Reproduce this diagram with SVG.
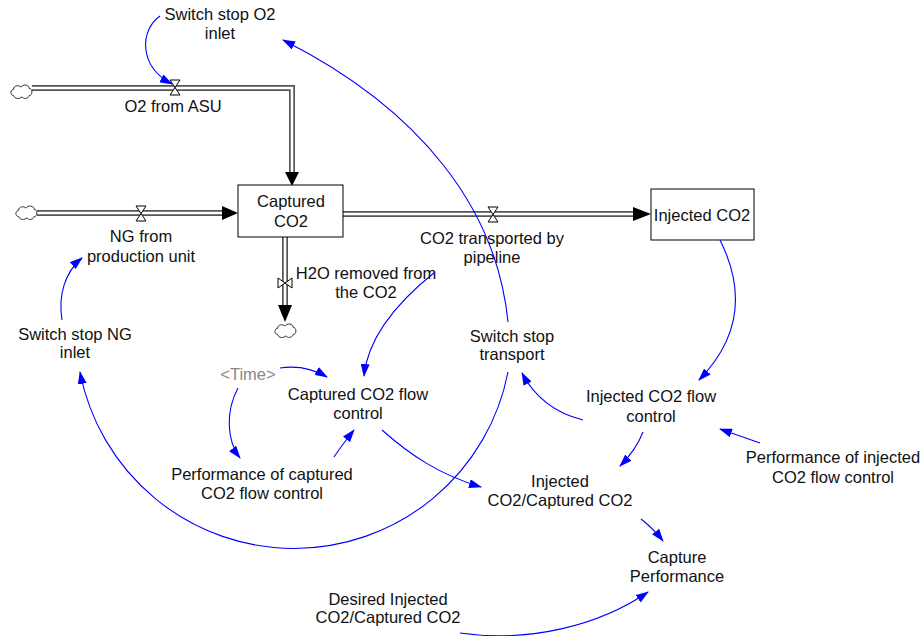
<svg xmlns="http://www.w3.org/2000/svg" width="922" height="636" viewBox="0 0 922 636">
<style>
text{font-family:"Liberation Sans",Arial,sans-serif;font-size:16.5px;fill:#111;text-anchor:middle}
.gray{fill:#888}
.pipeo{fill:none;stroke:#555;stroke-width:6}
.pipei{fill:none;stroke:#fff;stroke-width:2.6}
.box{fill:#fff;stroke:#000;stroke-width:1}
.valve{fill:#fff;stroke:#000;stroke-width:1}
.cloud{fill:#fff;stroke:#000;stroke-width:0.8}
.link{fill:none;stroke:#0000ff;stroke-width:1.1;marker-end:url(#ah)}
.fa{fill:#000}
</style>
<defs>
<marker id="ah" viewBox="0 0 13 9" refX="12" refY="4.5" markerWidth="13" markerHeight="9" markerUnits="userSpaceOnUse" orient="auto">
<path d="M0 0 L13 4.5 L0 9 Z" fill="#0000ff"/>
</marker>
<path id="cl" d="M-8.5 3.5 C-12 3.5 -12 -2.5 -8.5 -2.5 C-8.5 -7 -2.5 -7 -1.2 -4.8 C1.2 -8.4 7.2 -7.2 7.2 -3.6 C10.8 -3.6 10.8 3.6 7.2 3.6 C6 7.2 1.2 7.2 0 4.8 C-2.4 7.2 -7.2 7.2 -8.5 3.5 Z"/>
</defs>

<g id="pipes">
<path class="pipeo" d="M32 88 H292 V174"/>
<path class="pipei" d="M32 88 H292 V174"/>
<path class="fa" d="M285 172 H299 L292 186 Z"/>
<path class="pipeo" d="M37 213 H224"/>
<path class="pipei" d="M37 213 H224"/>
<path class="fa" d="M222 206 V220 L238 213 Z"/>
<path class="pipeo" d="M343 214 H636"/>
<path class="pipei" d="M343 214 H636"/>
<path class="fa" d="M633 207 V221 L651 214 Z"/>
<path class="pipeo" d="M285 237 V308"/>
<path class="pipei" d="M285 237 V308"/>
<path class="fa" d="M278 305 H292 L285 322 Z"/>
</g>

<g id="cloud-o2"><use href="#cl" class="cloud" x="22" y="92"/></g>
<g id="cloud-ng"><use href="#cl" class="cloud" x="27" y="213"/></g>
<g id="cloud-h2o"><use href="#cl" class="cloud" x="286" y="331"/></g>

<g id="o2-from-asu">
<path class="valve" d="M170 80 H180 L170 95 H180 Z"/>
<text x="173" y="112">O2 from ASU</text>
</g>
<g id="ng-from-production-unit">
<path class="valve" d="M136 206 H146 L136 221 H146 Z"/>
<text x="141" y="242">NG from</text>
<text x="141" y="262">production unit</text>
</g>
<g id="co2-transported">
<path class="valve" d="M488 207 H498 L488 222 H498 Z"/>
<text x="492" y="244">CO2 transported by</text>
<text x="492" y="263">pipeline</text>
</g>
<g id="h2o-removed">
<path class="valve" d="M278 278 V288 L292 278 V288 Z"/>
<text x="366" y="279">H2O removed from</text>
<text x="366" y="298">the CO2</text>
</g>

<g id="captured-co2">
<rect class="box" x="238" y="185" width="105" height="52"/>
<text x="291" y="207">Captured</text>
<text x="291" y="227">CO2</text>
</g>
<g id="injected-co2">
<rect class="box" x="651" y="189" width="103" height="51"/>
<text x="702" y="221">Injected CO2</text>
</g>

<g id="switch-stop-o2-inlet"><text x="220" y="20">Switch stop O2</text><text x="220" y="39">inlet</text></g>
<g id="switch-stop-ng-inlet"><text x="75" y="340">Switch stop NG</text><text x="75" y="358">inlet</text></g>
<g id="time"><text class="gray" x="248" y="380">&lt;Time&gt;</text></g>
<g id="captured-co2-flow-control"><text x="358" y="400">Captured CO2 flow</text><text x="358" y="419">control</text></g>
<g id="performance-captured"><text x="262" y="480">Performance of captured</text><text x="262" y="499">CO2 flow control</text></g>
<g id="switch-stop-transport"><text x="512" y="342">Switch stop</text><text x="512" y="360">transport</text></g>
<g id="injected-co2-flow-control"><text x="651" y="402">Injected CO2 flow</text><text x="651" y="422">control</text></g>
<g id="performance-injected"><text x="833" y="463">Performance of injected</text><text x="833" y="483">CO2 flow control</text></g>
<g id="ratio"><text x="560" y="487">Injected</text><text x="560" y="506">CO2/Captured CO2</text></g>
<g id="capture-performance"><text x="677" y="563">Capture</text><text x="677" y="582">Performance</text></g>
<g id="desired-ratio"><text x="388" y="605">Desired Injected</text><text x="388" y="623">CO2/Captured CO2</text></g>

<g id="connectors">
<path class="link" d="M160 16 C140 30 138 66 172 84"/>
<path class="link" d="M508 322 C497 210 422 110 283 40"/>
<path class="link" d="M62 320 C58 295 65 272 82 258"/>
<path class="link" d="M508 372 A218 218 0 0 1 80 372"/>
<path class="link" d="M280 368 C300 365 315 370 327 377"/>
<path class="link" d="M238 388 C226 410 226 440 240 458"/>
<path class="link" d="M334 457 C340 448 346 440 354 430"/>
<path class="link" d="M435 272 C400 300 368 335 364 376"/>
<path class="link" d="M720 240 C740 280 748 330 699 380"/>
<path class="link" d="M583 420 C555 413 535 398 522 373"/>
<path class="link" d="M643 432 C638 445 630 456 620 466"/>
<path class="link" d="M760 443 L720 429"/>
<path class="link" d="M382 430 C410 455 440 475 481 487"/>
<path class="link" d="M641 519 C650 526 656 532 663 541"/>
<path class="link" d="M460 633 C530 643 600 625 648 592"/>
</g>
</svg>
